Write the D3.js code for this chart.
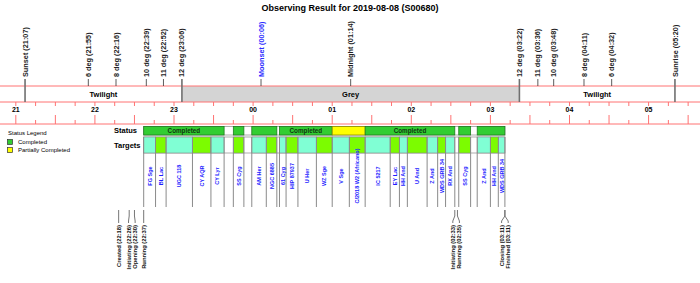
<!DOCTYPE html>
<html>
<head>
<meta charset="utf-8">
<script src="https://cdn.jsdelivr.net/npm/d3@7"></script>
<style>
  body { margin: 0; background: #fff; }
  svg { display: block; font-family: "Liberation Sans", Arial, sans-serif; }
</style>
</head>
<body>
<svg id="chart" width="700" height="283"></svg>
<script>
// sky events along the top
const eventNames = ["Sunset", "6 deg", "8 deg", "10 deg", "11 deg", "12 deg", "Moonset", "Midnight",
  "12 deg", "11 deg", "10 deg", "8 deg", "6 deg", "Sunrise"];
const eventTimes = ["21:07", "21:55", "22:16", "22:39", "22:52", "23:06", "00:06", "01:14",
  "03:22", "03:36", "03:48", "04:11", "04:32", "05:20"];

// darkness phases
const phaseNames = ["Twilight", "Grey", "Twilight"];
const phaseStarts = ["21:07", "23:06", "03:22"];
const phaseEnds = ["23:06", "03:22", "05:20"];

// targets observed
const targetNames = ["FG Sge", "BL Lac", "UGC 118", "CY AQR", "CY Lyr", "SS Cyg", "AM Her", "NGC 6885",
  "61 Cyg", "HIP 87937", "U Her", "WZ Sge", "V Sge", "C/2018 W2 (Africano)", "IC 5217", "EY Lac",
  "HH And", "U And", "Z And", "WDS GRB 34", "RX And", "SS Cyg", "Z And", "HH And", "WDS GRB 34"];
const targetStarts = ["22:37", "22:46", "22:54", "23:14", "23:28", "23:45", "23:59", "00:10",
  "00:20", "00:25", "00:34", "00:48", "01:00", "01:13", "01:25", "01:44",
  "01:51", "01:57", "02:12", "02:20", "02:26", "02:36", "02:50", "03:00", "03:06"];
const targetEnds = ["22:46", "22:54", "23:14", "23:28", "23:38", "23:53", "00:10", "00:18",
  "00:25", "00:34", "00:48", "01:00", "01:13", "01:25", "01:44", "01:51",
  "01:57", "02:12", "02:20", "02:26", "02:33", "02:45", "03:00", "03:06", "03:11"];

// status blocks
const statusStarts = ["22:37", "23:45", "23:59", "00:20", "01:00", "01:25", "02:36", "02:50"];
const statusEnds = ["23:38", "23:53", "00:18", "01:00", "01:25", "02:33", "02:45", "03:11"];
const statusStates = ["Completed", "Completed", "Completed", "Completed", "Partially Completed",
  "Completed", "Completed", "Completed"];

// operation log along the bottom
const opNames = ["Created", "Initiating", "Opening", "Running", "Initiating", "Running", "Closing", "Finished"];
const opTimes = ["22:18", "22:26", "22:30", "22:37", "02:33", "02:35", "03:11", "03:11"];

const legendLabels = ["Completed", "Partially Completed"];

const W = 700, H = 283;
const svg = d3.select("#chart");

// hours before noon belong to the next day
const T = (s) => {
  const [h, m] = s.split(":").map(Number);
  return new Date(2019, 7, h >= 12 ? 8 : 9, h, m);
};

const x = d3.scaleTime().domain([T("20:48"), T("05:39")]).range([0, W]);
const stateColour = d3.scaleOrdinal().domain(legendLabels).range(["#32cd32", "#ffff00"]);
const stateStroke = d3.scaleOrdinal().domain(legendLabels).range(["#1f7a1f", "#8a8a00"]);
const red = "#ff7272";

// title
svg.append("text")
  .attr("x", W / 2).attr("y", 11)
  .attr("text-anchor", "middle")
  .style("font-size", "9px").style("font-weight", "bold")
  .text("Observing Result for 2019-08-08 (S00680)");

// phase band
const bandTop = 86, bandBot = 102;
const phases = phaseNames.map((n, i) => ({ name: n, start: T(phaseStarts[i]), end: T(phaseEnds[i]) }));
svg.selectAll(".phase").data(phases).join("rect")
  .attr("class", "phase")
  .attr("x", (d) => x(d.start)).attr("width", (d) => x(d.end) - x(d.start))
  .attr("y", bandTop).attr("height", bandBot - bandTop)
  .attr("fill", (d) => (d.name === "Grey" ? "#d4d4d4" : "#fff"));
svg.selectAll(".phaseLabel").data(phases).join("text")
  .attr("class", "phaseLabel")
  .attr("x", (d) => (x(d.start) + x(d.end)) / 2).attr("y", (bandTop + bandBot) / 2)
  .attr("dy", "0.35em").attr("text-anchor", "middle")
  .style("font-size", "7.5px").style("font-weight", "bold")
  .text((d) => d.name);

[bandTop, bandBot, 124].forEach((y) => {
  svg.append("line").attr("x1", 0).attr("x2", W).attr("y1", y).attr("y2", y)
    .attr("stroke", red).attr("stroke-width", 1);
});

// 15 minute ticks
const quarter = x.ticks(d3.timeMinute.every(15));
svg.selectAll(".qtick").data(quarter).join("line")
  .attr("x1", (d) => x(d)).attr("x2", (d) => x(d))
  .attr("y1", bandBot).attr("y2", bandBot + 4)
  .attr("stroke", red);
svg.selectAll(".btick").data(quarter).join("line")
  .attr("x1", (d) => x(d)).attr("x2", (d) => x(d))
  .attr("y1", (d) => (d.getMinutes() % 30 === 0 ? 115 : 120)).attr("y2", 124)
  .attr("stroke", red);
svg.selectAll(".hourLabel").data(x.ticks(d3.timeHour.every(1))).join("text")
  .attr("x", (d) => x(d)).attr("y", 110).attr("dy", "0.35em")
  .attr("text-anchor", "middle")
  .style("font-size", "7px").style("font-weight", "bold")
  .text(d3.timeFormat("%H"));

// sky events
const bounds = new Set(phaseStarts.concat(phaseEnds));
const events = eventNames.map((n, i) => ({ name: n, time: eventTimes[i], t: T(eventTimes[i]) }));
svg.selectAll(".evLine").data(events).join("line")
  .attr("x1", (d) => x(d.t)).attr("x2", (d) => x(d.t))
  .attr("y1", 79)
  .attr("y2", (d) => (bounds.has(d.time) ? bandBot : bandTop))
  .attr("stroke", (d) => (bounds.has(d.time) ? "#707070" : "#333"))
  .attr("stroke-width", (d) => (bounds.has(d.time) ? 1.6 : 0.8));
svg.selectAll(".evLabel").data(events).join("text")
  .attr("transform", (d) => `translate(${x(d.t)},77) rotate(-90)`)
  .attr("dy", "0.35em")
  .style("font-size", "7.3px").style("font-weight", "bold")
  .attr("fill", (d) => (d.name === "Moonset" ? "#2b2bff" : "#222"))
  .text((d) => `${d.name} (${d.time})`);

// row labels
svg.append("text").attr("x", 114).attr("y", 130).attr("dy", "0.35em")
  .style("font-size", "7.5px").style("font-weight", "bold").text("Status");
svg.append("text").attr("x", 114).attr("y", 145).attr("dy", "0.35em")
  .style("font-size", "7.5px").style("font-weight", "bold").text("Targets");

// legend
svg.append("text").attr("x", 8).attr("y", 133).attr("dy", "0.35em")
  .style("font-size", "6px").text("Status Legend");
legendLabels.forEach((l, i) => {
  svg.append("rect").attr("x", 7.5).attr("y", 139.5 + i * 8).attr("width", 5).attr("height", 5)
    .attr("fill", stateColour(l)).attr("stroke", "#333").attr("stroke-width", 0.7);
  svg.append("text").attr("x", 18).attr("y", 142 + i * 8).attr("dy", "0.35em")
    .style("font-size", "6px").text(l);
});

// status row
const runStart = x(T(targetStarts[0])), runEnd = x(T(targetEnds[targetEnds.length - 1]));
const sTop = 126.5, sBot = 135;
svg.append("rect").attr("x", runStart).attr("y", sTop).attr("width", runEnd - runStart)
  .attr("height", sBot - sTop).attr("fill", "#fff").attr("stroke", "#999").attr("stroke-width", 0.8);
const status = statusStates.map((s, i) => ({ state: s, start: T(statusStarts[i]), end: T(statusEnds[i]) }));
svg.selectAll(".status").data(status).join("rect")
  .attr("x", (d) => x(d.start)).attr("width", (d) => x(d.end) - x(d.start))
  .attr("y", sTop).attr("height", sBot - sTop)
  .attr("fill", (d) => stateColour(d.state))
  .attr("stroke", (d) => stateStroke(d.state)).attr("stroke-width", 0.8);
svg.selectAll(".statusLabel").data(status.filter((d) => x(d.end) - x(d.start) > 45)).join("text")
  .attr("x", (d) => (x(d.start) + x(d.end)) / 2).attr("y", (sTop + sBot) / 2).attr("dy", "0.35em")
  .attr("text-anchor", "middle")
  .style("font-size", "6.3px").style("font-weight", "bold").attr("fill", "#113311")
  .text((d) => d.state);

// targets row
const tTop = 137, tBot = 153, tLines = 207;
svg.append("rect").attr("x", runStart).attr("y", tTop).attr("width", runEnd - runStart)
  .attr("height", tBot - tTop).attr("fill", "#fff").attr("stroke", "#999").attr("stroke-width", 0.8);
const targets = targetNames.map((n, i) => ({ name: n, i, start: T(targetStarts[i]), end: T(targetEnds[i]) }));
svg.selectAll(".cell").data(targets).join("rect")
  .attr("x", (d) => x(d.start)).attr("width", (d) => x(d.end) - x(d.start))
  .attr("y", tTop).attr("height", tBot - tTop)
  .attr("fill", (d) => (d.i % 2 ? "#7cfc00" : "#80ffd4"))
  .attr("stroke", "#888").attr("stroke-width", 0.6);
const edges = Array.from(new Set(targets.flatMap((d) => [+d.start, +d.end])));
svg.selectAll(".edge").data(edges).join("line")
  .attr("x1", (d) => x(d)).attr("x2", (d) => x(d))
  .attr("y1", tTop).attr("y2", tLines)
  .attr("stroke", "#8a8a8a").attr("stroke-width", 1);
svg.selectAll(".tLabel").data(targets).join("text")
  .attr("transform", (d) => `translate(${(x(d.start) + x(d.end)) / 2},176) rotate(-90)`)
  .attr("dy", "0.35em").attr("text-anchor", "middle")
  .style("font-size", "5.5px").style("font-weight", "bold").attr("fill", "#1c1cff")
  .text((d) => d.name);

// operation log, labels nudged apart where they crowd
const ops = opNames.map((n, i) => ({ name: n, time: opTimes[i], px: x(T(opTimes[i])) }));
ops.forEach((d) => (d.lx = d.px));
for (let i = 1; i < ops.length; i++) {
  if (ops[i].px - ops[i - 1].px < 6) {
    const mid = (ops[i].px + ops[i - 1].px) / 2;
    ops[i - 1].lx = mid - 3.3;
    ops[i].lx = mid + 3.3;
  }
}
svg.selectAll(".opLine").data(ops).join("path")
  .attr("d", (d) => `M${d.px},210 L${d.px},216 L${d.lx},221 L${d.lx},223`)
  .attr("fill", "none").attr("stroke", "#666").attr("stroke-width", 0.9);
svg.selectAll(".opLabel").data(ops).join("text")
  .attr("transform", (d) => `translate(${d.lx},225) rotate(-90)`)
  .attr("dy", "0.35em").attr("text-anchor", "end")
  .style("font-size", "5.8px").style("font-weight", "bold").attr("fill", "#111")
  .text((d) => `${d.name} (${d.time})`);
</script>
</body>
</html>
